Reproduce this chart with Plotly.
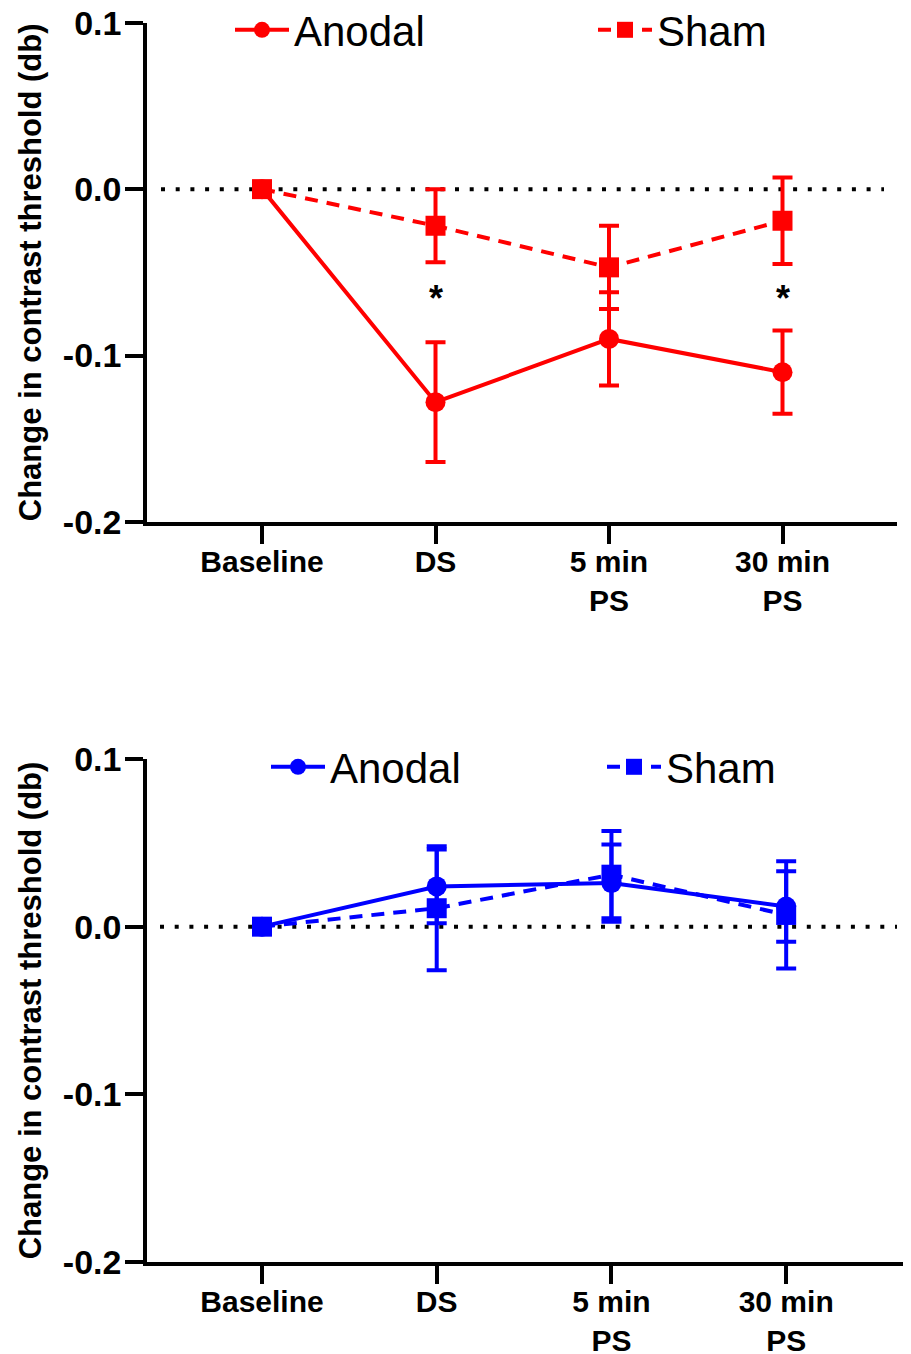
import plotly.graph_objects as go

# ---------------- data ----------------
categories = ["Baseline", "DS", "5 min<br>PS", "30 min<br>PS"]

red_anodal = [0.0, -0.128, -0.090, -0.110]
red_anodal_err = [0.0, 0.036, 0.028, 0.025]
red_sham = [0.0, -0.022, -0.047, -0.019]
red_sham_err = [0.0, 0.022, 0.025, 0.026]

blue_anodal = [0.0, 0.024, 0.026, 0.012]
blue_anodal_err = [0.0, 0.022, 0.023, 0.021]
blue_sham = [0.0, 0.011, 0.031, 0.007]
blue_sham_err = [0.0, 0.037, 0.026, 0.032]

y_tickvals = [-0.2, -0.1, 0.0, 0.1]
y_ticktext = ["-0.2", "-0.1", "0.0", "0.1"]
significant_top = ["DS", "30 min<br>PS"]
ytitle = "Change in contrast threshold (db)"

# ---------------- styling ----------------
FONT = "Liberation Sans, Arial, Helvetica, sans-serif"
RED = "#FF0000"
BLUE = "#0000FF"
W, H = 911, 1354
OFF = 8  # page body margin: screen px = figure px + OFF

fig = go.Figure()


def add_series(y, err, color, name, symbol, dash, xa, ya, legend):
    fig.add_trace(go.Scatter(
        x=categories, y=y, name=name, mode="lines+markers",
        line=dict(color=color, width=4, dash=dash),
        marker=dict(symbol=symbol, size=20, color=color),
        error_y=dict(type="data", array=err, visible=True, color=color,
                     thickness=4, width=10),
        xaxis=xa, yaxis=ya, legend=legend, cliponaxis=False,
    ))


add_series(red_anodal, red_anodal_err, RED, "Anodal", "circle", "solid", "x", "y", "legend")
add_series(red_sham, red_sham_err, RED, "Sham", "square", "13px,9px", "x", "y", "legend2")
add_series(blue_anodal, blue_anodal_err, BLUE, "Anodal", "circle", "solid", "x2", "y2", "legend3")
add_series(blue_sham, blue_sham_err, BLUE, "Sham", "square", "13px,9px", "x2", "y2", "legend4")

# plot-area geometry in screen pixels (converted with OFF)
top_x0, top_x1, top_y0, top_y1 = 147 - OFF, 897 - OFF, 22.7 - OFF, 522 - OFF
bot_x0, bot_x1, bot_y0, bot_y1 = 147 - OFF, 905 - OFF, 759 - OFF, 1262 - OFF

axis_common = dict(showline=True, linecolor="black", linewidth=3.5, ticks="outside",
                   ticklen=18, tickwidth=3.5, tickcolor="black", showgrid=False,
                   zeroline=False, automargin=False, ticklabeloverflow="allow")
xfont = dict(family=FONT, size=30, color="black", weight="bold")
yfont = dict(family=FONT, size=34, color="black", weight="bold")
tfont = dict(family=FONT, size=31, color="black", weight="bold")

ITEMW = 54


def legend_at(marker_x, center_y):
    return dict(orientation="h", x=(marker_x - OFF - (ITEMW / 2 + 5)) / W, xanchor="left",
                y=1 - (center_y - OFF - 2) / H, yanchor="middle",
                font=dict(family=FONT, size=42, color="black"),
                bgcolor="rgba(0,0,0,0)", borderwidth=0, itemwidth=ITEMW)


fig.update_layout(
    width=W, height=H, margin=dict(l=0, r=0, t=0, b=0, autoexpand=False),
    paper_bgcolor="white", plot_bgcolor="white",
    font=dict(family=FONT, color="black"),
    xaxis=dict(axis_common, domain=[top_x0 / W, top_x1 / W], anchor="y",
               type="category", range=[-0.663, 3.66], tickfont=xfont,
               ticklabelstandoff=-8),
    yaxis=dict(axis_common, domain=[1 - top_y1 / H, 1 - top_y0 / H], anchor="x",
               range=[-0.2, 0.1], tickvals=y_tickvals, ticktext=y_ticktext,
               tickfont=yfont, ticklabelstandoff=-3,
               title=dict(text=ytitle, standoff=13, font=tfont)),
    xaxis2=dict(axis_common, domain=[bot_x0 / W, bot_x1 / W], anchor="y2",
                type="category", range=[-0.658, 3.68], tickfont=xfont,
                ticklabelstandoff=-8),
    yaxis2=dict(axis_common, domain=[1 - bot_y1 / H, 1 - bot_y0 / H], anchor="x2",
                range=[-0.2, 0.1], tickvals=y_tickvals, ticktext=y_ticktext,
                tickfont=yfont, ticklabelstandoff=-3,
                title=dict(text=ytitle, standoff=13, font=tfont)),
    legend=legend_at(262, 32),
    legend2=legend_at(625, 32),
    legend3=legend_at(298, 769),
    legend4=legend_at(634, 769),
    showlegend=True,
)

# dotted zero reference lines
fig.add_shape(type="line", xref="x domain", yref="y", x0=(161 - OFF - top_x0) / (top_x1 - top_x0),
              x1=(884 - OFF - top_x0) / (top_x1 - top_x0), y0=0, y1=0,
              line=dict(color="black", width=4, dash="4px,10.7px"), layer="below")
fig.add_shape(type="line", xref="x2 domain", yref="y2", x0=(160 - OFF - bot_x0) / (bot_x1 - bot_x0),
              x1=(897 - OFF - bot_x0) / (bot_x1 - bot_x0), y0=0, y1=0,
              line=dict(color="black", width=4, dash="4px,10.7px"), layer="below")

# significance asterisks
for cat in significant_top:
    fig.add_annotation(x=cat, y=-0.066, xref="x", yref="y", text="*", showarrow=False,
                       font=dict(family=FONT, size=36, color="black", weight="bold"),
                       xanchor="center", yanchor="middle")

fig.write_html("out.html")
